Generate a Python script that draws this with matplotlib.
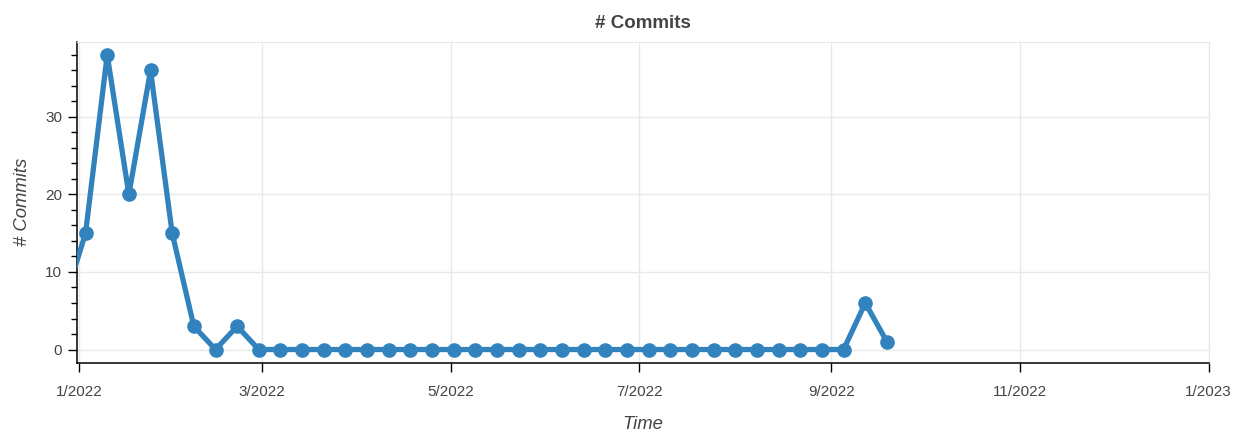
import matplotlib
matplotlib.use("Agg")
import matplotlib.pyplot as plt
import matplotlib.dates as mdates
from matplotlib.ticker import MultipleLocator
import pandas as pd

# weekly commit counts (mondays)
week_start = "2021-12-27"
commits = [6, 15, 38, 20, 36, 15, 3, 0, 3] + [0] * 28 + [6, 1]
weeks = pd.date_range(week_start, periods=len(commits), freq="7D")

tick_dates = pd.date_range("2022-01-01", "2023-01-01", freq="2MS")

color = "#3182bd"
text_color = "#444444"
plt.rcParams["font.family"] = ["Liberation Sans", "DejaVu Sans"]

fig = plt.figure(figsize=(12.36, 4.32), dpi=100)
ax = fig.add_axes([77.3 / 1236, 1 - 362.7 / 432, 1131.4 / 1236, 321 / 432])

ax.plot(weeks, commits, color=color, linewidth=3.8, marker="o", markersize=9.5,
        solid_joinstyle="round", solid_capstyle="round", zorder=3)

ax.set_xlim(pd.Timestamp("2021-12-31 08:00"), pd.Timestamp("2023-01-01"))
ax.set_ylim(-1.7, 39.7)

ax.set_xticks(tick_dates)
ax.xaxis.set_major_formatter(plt.FuncFormatter(
    lambda v, p: "{}/{}".format(mdates.num2date(v).month, mdates.num2date(v).year)))
ax.yaxis.set_major_locator(MultipleLocator(10))
ax.yaxis.set_minor_locator(MultipleLocator(2))

ax.grid(True, color="#e8e8e8", linewidth=1)
ax.set_axisbelow(True)
for s in ["top", "right"]:
    ax.spines[s].set_color("#e8e8e8")
for s in ["left", "bottom"]:
    ax.spines[s].set_color("black")
    ax.spines[s].set_linewidth(1.1)

ax.tick_params(axis="both", which="major", direction="out", length=6.5, width=1,
               labelsize=11, labelcolor=text_color)
ax.tick_params(axis="x", which="major", pad=9.5)
ax.tick_params(axis="y", which="major", pad=4.5)
ax.tick_params(axis="y", which="minor", direction="out", length=4, width=1)

ax.set_title("# Commits", fontsize=13.5, fontweight="bold", color=text_color, pad=10)
ax.set_xlabel("Time", fontsize=13.3, style="italic", color=text_color, labelpad=12)
ax.set_ylabel("# Commits", fontsize=13.3, style="italic", color=text_color, labelpad=10)

fig.savefig("out.png", dpi=100)
